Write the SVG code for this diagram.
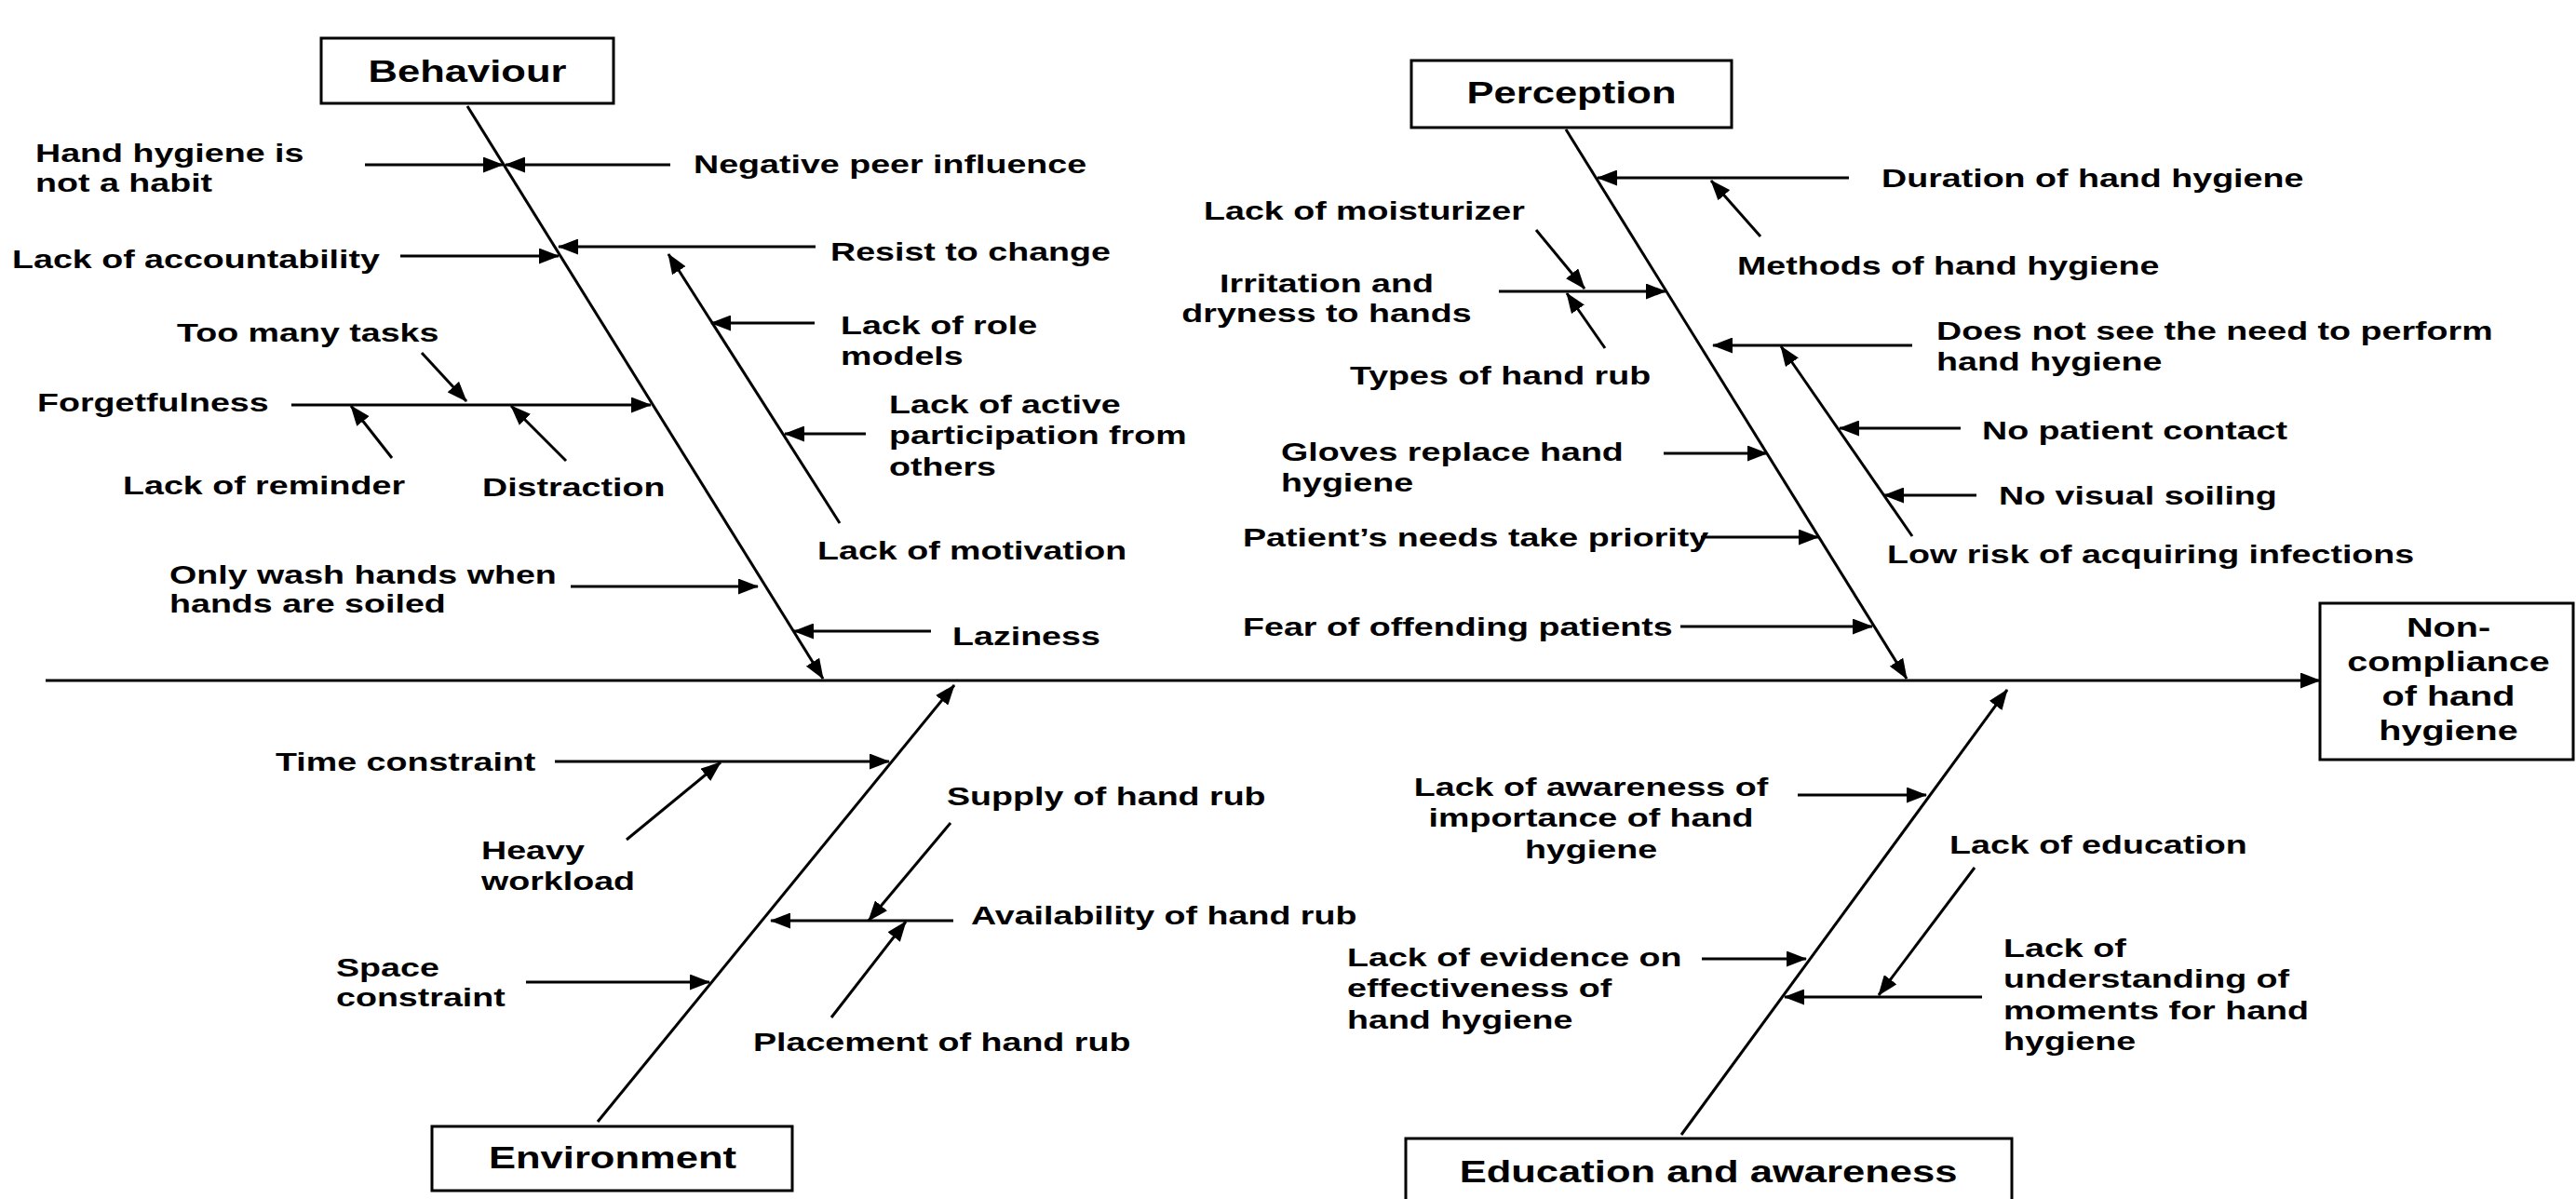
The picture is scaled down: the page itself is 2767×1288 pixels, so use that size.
<svg xmlns="http://www.w3.org/2000/svg" width="2767" height="1288" viewBox="0 0 2767 1288">
<defs>
<style>
.t{font-family:"Liberation Sans",Arial,sans-serif;font-weight:bold;font-size:28.5px;fill:#000}
.h{font-size:33px}
.e{font-size:30px}
.m{text-anchor:middle}
.box{fill:#fff;stroke:#000;stroke-width:3}
#connectors line{stroke:#000;stroke-width:3;marker-end:url(#a)}
</style>
<marker id="a" markerUnits="userSpaceOnUse" viewBox="0 0 22 17" markerWidth="22" markerHeight="17" refX="21" refY="8.5" orient="auto">
<path d="M0,0 L22,8.5 L0,17 z" fill="#000"/>
</marker>
</defs>
<rect width="2767" height="1288" fill="#fff"/>

<g id="connectors">
<line x1="49" y1="731" x2="2492" y2="731"/>
<!-- Behaviour -->
<line x1="502" y1="114" x2="884" y2="729"/>
<line x1="392" y1="177" x2="540" y2="177"/>
<line x1="720" y1="177" x2="543" y2="177"/>
<line x1="430" y1="275" x2="600" y2="275"/>
<line x1="876" y1="265" x2="600" y2="265"/>
<line x1="902" y1="562" x2="718" y2="273"/>
<line x1="875" y1="347" x2="764" y2="347"/>
<line x1="930" y1="466" x2="843" y2="466"/>
<line x1="1000" y1="678" x2="853" y2="678"/>
<line x1="613" y1="630" x2="814" y2="630"/>
<line x1="313" y1="435" x2="699" y2="435"/>
<line x1="453" y1="379" x2="501" y2="431"/>
<line x1="421" y1="492" x2="377" y2="436"/>
<line x1="608" y1="495" x2="549" y2="436"/>
<!-- Perception -->
<line x1="1682" y1="139" x2="2048" y2="729"/>
<line x1="1986" y1="191" x2="1716" y2="191"/>
<line x1="1891" y1="254" x2="1838" y2="194"/>
<line x1="1610" y1="313" x2="1789" y2="313"/>
<line x1="1650" y1="247" x2="1702" y2="310"/>
<line x1="1724" y1="374" x2="1683" y2="315"/>
<line x1="2054" y1="371" x2="1840" y2="371"/>
<line x1="2054" y1="576" x2="1913" y2="372"/>
<line x1="2106" y1="460" x2="1976" y2="460"/>
<line x1="2123" y1="532" x2="2024" y2="532"/>
<line x1="1787" y1="487" x2="1898" y2="487"/>
<line x1="1827" y1="577" x2="1953" y2="577"/>
<line x1="1805" y1="673" x2="2011" y2="673"/>
<!-- Environment -->
<line x1="642" y1="1205" x2="1025" y2="736"/>
<line x1="596" y1="818" x2="955" y2="818"/>
<line x1="673" y1="902" x2="774" y2="819"/>
<line x1="565" y1="1055" x2="762" y2="1055"/>
<line x1="1024" y1="989" x2="828" y2="989"/>
<line x1="1021" y1="884" x2="933" y2="989"/>
<line x1="893" y1="1093" x2="973" y2="990"/>
<!-- Education -->
<line x1="1806" y1="1219" x2="2156" y2="741"/>
<line x1="1931" y1="854" x2="2069" y2="854"/>
<line x1="1828" y1="1030" x2="1940" y2="1030"/>
<line x1="2129" y1="1071" x2="1917" y2="1071"/>
<line x1="2121" y1="932" x2="2018" y2="1069"/>
</g>

<g id="effect">
<rect class="box" x="2492" y="648" width="272" height="168"/>
<text class="t e m" transform="translate(2630 684) scale(1.32 1)"><tspan x="0">Non-</tspan><tspan x="0" dy="37.5">compliance</tspan><tspan x="0" dy="37">of hand</tspan><tspan x="0" dy="37">hygiene</tspan></text>
</g>

<g id="cat-behaviour">
<rect class="box" x="345" y="41" width="314" height="70"/>
<text class="t h m" transform="translate(502 88) scale(1.32 1)">Behaviour</text>
</g>
<g id="cat-perception">
<rect class="box" x="1516" y="65" width="344" height="72"/>
<text class="t h m" transform="translate(1688 111) scale(1.32 1)">Perception</text>
</g>
<g id="cat-environment">
<rect class="box" x="464" y="1210" width="387" height="69"/>
<text class="t h m" transform="translate(658 1255) scale(1.32 1)">Environment</text>
</g>
<g id="cat-education">
<rect class="box" x="1510" y="1223" width="651" height="90"/>
<text class="t h m" transform="translate(1835 1270) scale(1.32 1)">Education and awareness</text>
</g>

<!-- Behaviour causes -->
<g id="b-habit"><text class="t" transform="translate(38 174) scale(1.32 1)"><tspan x="0">Hand hygiene is</tspan><tspan x="0" dy="32">not a habit</tspan></text></g>
<g id="b-peer"><text class="t" transform="translate(745 186) scale(1.32 1)">Negative peer influence</text></g>
<g id="b-account"><text class="t" transform="translate(13 288) scale(1.32 1)">Lack of accountability</text></g>
<g id="b-resist"><text class="t" transform="translate(892 280) scale(1.32 1)">Resist to change</text></g>
<g id="b-role"><text class="t" transform="translate(903 359) scale(1.32 1)"><tspan x="0">Lack of role</tspan><tspan x="0" dy="33">models</tspan></text></g>
<g id="b-tasks"><text class="t" transform="translate(190 367) scale(1.32 1)">Too many tasks</text></g>
<g id="b-forget"><text class="t" transform="translate(40 442) scale(1.32 1)">Forgetfulness</text></g>
<g id="b-active"><text class="t" transform="translate(955 444) scale(1.32 1)"><tspan x="0">Lack of active</tspan><tspan x="0" dy="33.5">participation from</tspan><tspan x="0" dy="33.5">others</tspan></text></g>
<g id="b-reminder"><text class="t" transform="translate(132 531) scale(1.32 1)">Lack of reminder</text></g>
<g id="b-distraction"><text class="t" transform="translate(518 533) scale(1.32 1)">Distraction</text></g>
<g id="b-motivation"><text class="t" transform="translate(878 601) scale(1.32 1)">Lack of motivation</text></g>
<g id="b-soiled"><text class="t" transform="translate(182 627) scale(1.32 1)"><tspan x="0">Only wash hands when</tspan><tspan x="0" dy="31.5">hands are soiled</tspan></text></g>
<g id="b-lazy"><text class="t" transform="translate(1023 693) scale(1.32 1)">Laziness</text></g>

<!-- Perception causes -->
<g id="p-duration"><text class="t" transform="translate(2021 201) scale(1.32 1)">Duration of hand hygiene</text></g>
<g id="p-moist"><text class="t" transform="translate(1293 236) scale(1.32 1)">Lack of moisturizer</text></g>
<g id="p-methods"><text class="t" transform="translate(1866 295) scale(1.32 1)">Methods of hand hygiene</text></g>
<g id="p-irritation"><text class="t m" transform="translate(1425 314) scale(1.32 1)"><tspan x="0">Irritation and</tspan><tspan x="0" dy="32">dryness to hands</tspan></text></g>
<g id="p-need"><text class="t" transform="translate(2080 365) scale(1.32 1)"><tspan x="0">Does not see the need to perform</tspan><tspan x="0" dy="33">hand hygiene</tspan></text></g>
<g id="p-types"><text class="t" transform="translate(1450 413) scale(1.32 1)">Types of hand rub</text></g>
<g id="p-contact"><text class="t" transform="translate(2129 472) scale(1.32 1)">No patient contact</text></g>
<g id="p-gloves"><text class="t" transform="translate(1376 495) scale(1.32 1)"><tspan x="0">Gloves replace hand</tspan><tspan x="0" dy="33">hygiene</tspan></text></g>
<g id="p-soiling"><text class="t" transform="translate(2147 542) scale(1.32 1)">No visual soiling</text></g>
<g id="p-priority"><text class="t" transform="translate(1335 587) scale(1.32 1)">Patient’s needs take priority</text></g>
<g id="p-risk"><text class="t" transform="translate(2027 605) scale(1.32 1)">Low risk of acquiring infections</text></g>
<g id="p-fear"><text class="t" transform="translate(1335 683) scale(1.32 1)">Fear of offending patients</text></g>

<!-- Environment causes -->
<g id="e-time"><text class="t" transform="translate(296 828) scale(1.32 1)">Time constraint</text></g>
<g id="e-supply"><text class="t" transform="translate(1017 865) scale(1.32 1)">Supply of hand rub</text></g>
<g id="e-heavy"><text class="t" transform="translate(517 923) scale(1.32 1)"><tspan x="0">Heavy</tspan><tspan x="0" dy="33">workload</tspan></text></g>
<g id="e-avail"><text class="t" transform="translate(1043 993) scale(1.32 1)">Availability of hand rub</text></g>
<g id="e-space"><text class="t" transform="translate(361 1049) scale(1.32 1)"><tspan x="0">Space</tspan><tspan x="0" dy="32.5">constraint</tspan></text></g>
<g id="e-placement"><text class="t" transform="translate(809 1129) scale(1.32 1)">Placement of hand rub</text></g>

<!-- Education causes -->
<g id="d-awareness"><text class="t m" transform="translate(1709 855) scale(1.32 1)"><tspan x="0">Lack of awareness of</tspan><tspan x="0" dy="33.5">importance of hand</tspan><tspan x="0" dy="34">hygiene</tspan></text></g>
<g id="d-education"><text class="t" transform="translate(2094 917) scale(1.32 1)">Lack of education</text></g>
<g id="d-understanding"><text class="t" transform="translate(2152 1028) scale(1.32 1)"><tspan x="0">Lack of</tspan><tspan x="0" dy="33.5">understanding of</tspan><tspan x="0" dy="33.5">moments for hand</tspan><tspan x="0" dy="33">hygiene</tspan></text></g>
<g id="d-evidence"><text class="t" transform="translate(1447 1038) scale(1.32 1)"><tspan x="0">Lack of evidence on</tspan><tspan x="0" dy="33">effectiveness of</tspan><tspan x="0" dy="34">hand hygiene</tspan></text></g>
</svg>
